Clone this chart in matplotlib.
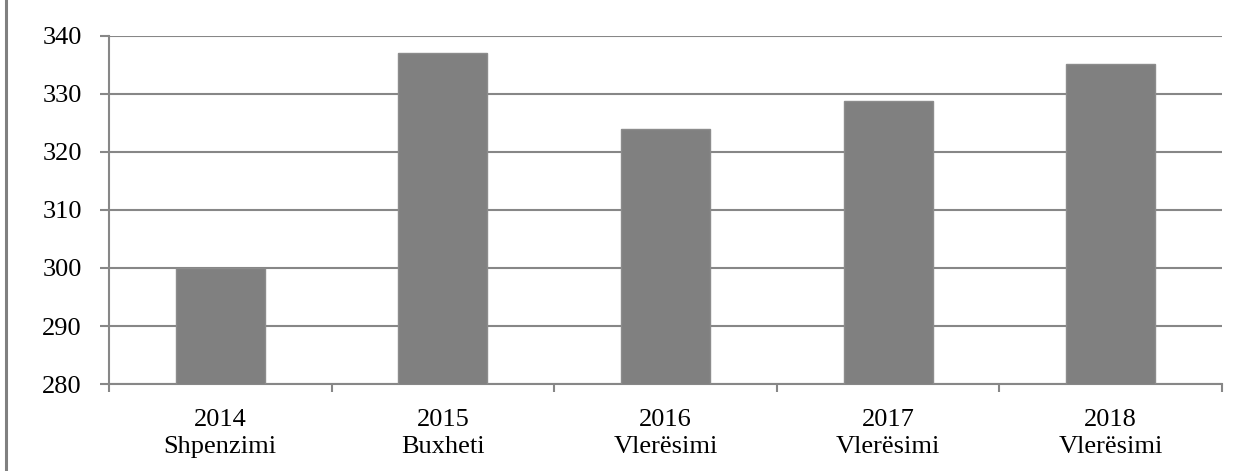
import matplotlib.pyplot as plt
from matplotlib.lines import Line2D

years = ['2014', '2015', '2016', '2017', '2018']
kinds = ['Shpenzimi', 'Buxheti', 'Vlerësimi', 'Vlerësimi', 'Vlerësimi']
values = [300.0, 337.1, 324.0, 328.8, 335.2]
yticks = [280, 290, 300, 310, 320, 330, 340]

plt.rcParams['font.family'] = ['Liberation Serif', 'DejaVu Serif']

fig = plt.figure(figsize=(12.58, 4.71), dpi=100)
ax = fig.add_axes([0.0866, 0.1847, 0.8848, 0.7389])

pos = range(len(values))
ax.bar(pos, values, width=0.4, color='#808080', edgecolor='#8c8c8c', linewidth=1, zorder=3)

ax.set_ylim(280, 340)
ax.set_xlim(-0.5, len(values) - 0.5)
ax.set_yticks(yticks)
ax.set_yticklabels([str(t) for t in yticks], fontsize=19)
ax.yaxis.grid(True, color='#878787', linewidth=1.5, zorder=0)

# categories labelled at centres, ticks drawn on the boundaries
ax.set_xticks(list(pos))
ax.set_xticklabels([f'{y}\n{k}' for y, k in zip(years, kinds)], fontsize=19, linespacing=1.3)
ax.set_xticks([i - 0.5 for i in range(len(values) + 1)], minor=True)
ax.tick_params(axis='x', which='major', length=0, pad=18)
ax.tick_params(axis='x', which='minor', length=6, width=1.5, color='#878787')
ax.tick_params(axis='y', length=6.5, width=1.5, color='#878787', pad=13)

for side in ['top', 'right']:
    ax.spines[side].set_visible(False)
for side in ['left', 'bottom']:
    ax.spines[side].set_color('#878787')
    ax.spines[side].set_linewidth(1.5)

# frame edge at the left of the figure
fig.add_artist(Line2D([0.0044, 0.0044], [0, 1], color='#808080', linewidth=2.2, transform=fig.transFigure))

fig.savefig('out.png', dpi=100)
